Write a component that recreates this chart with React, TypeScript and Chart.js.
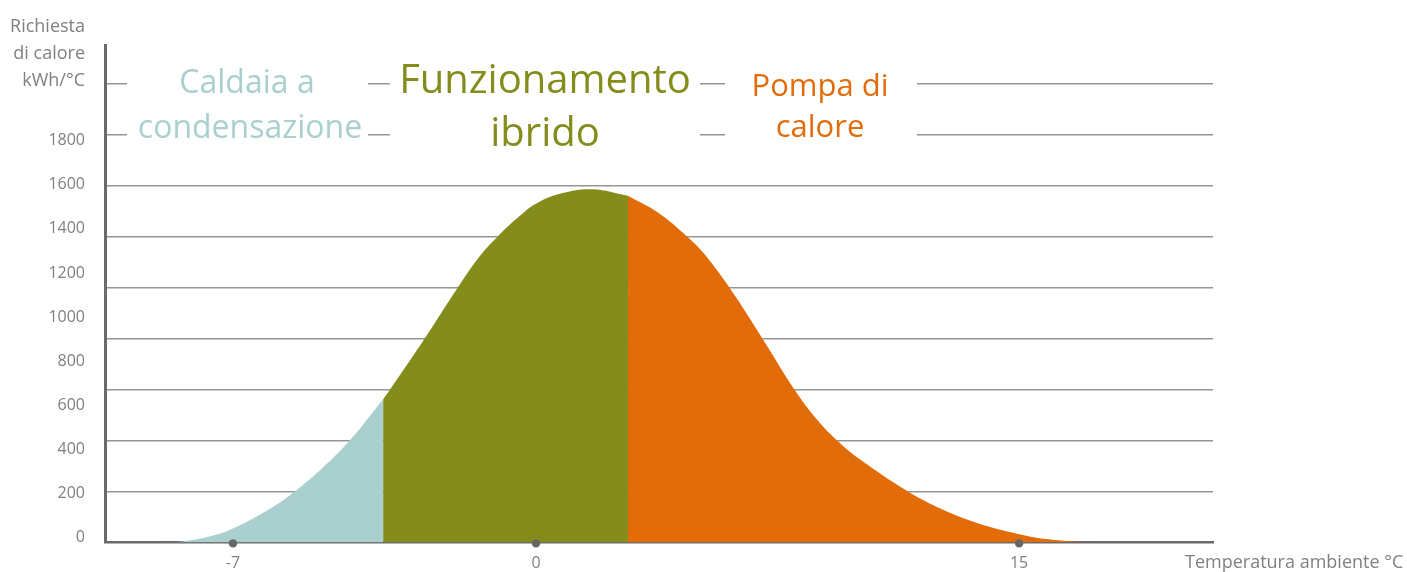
import React, { useEffect, useRef } from 'react';
import { Chart, registerables } from 'chart.js';

Chart.register(...registerables);

// Abstract horizontal position (0..100 across the plot) of each curve sample
const positions = [5.0, 6.8, 9.2, 11.55, 15.2, 17.0, 19.7, 22.1, 25.1, 25.7, 28.9, 31.8, 33.8, 35.4, 37.5, 39.0, 41.3, 44.0, 47.2, 49.8, 52.6, 54.0, 56.4, 59.4, 62.3, 64.35, 66.3, 68.1, 72.4, 75.6, 78.7, 82.6, 85.0, 87.7, 89.8];
// Heat demand (kWh/°C) at each position
const demand = [0, 3, 24, 63, 162, 226, 341, 463, 650, 692, 929, 1153, 1297, 1386, 1484, 1540, 1585, 1602, 1573, 1500, 1385, 1314, 1153, 920, 688, 552, 452, 378, 233, 149, 88, 36, 15, 3, 0];

// Zone boundaries (positions)
const boilerEnd = 25.1;
const hybridEnd = 47.2;

// X tick positions and their temperature labels
const xTickPositions = [11.55, 38.9, 82.5];
const xTickLabels = ['-7', '0', '15'];

// Y tick labels
const yTickValues = [0, 200, 400, 600, 800, 1000, 1200, 1400, 1600, 1800];
const yMax = 2257;

// Decorative grid levels (independent of the labels)
const gridLevels = [1, 2, 3, 4, 5, 6, 7, 8, 9];
const gridMax = 9.763;

const zoneNames = [
  ['Caldaia a', 'condensazione'],
  ['Funzionamento', 'ibrido'],
  ['Pompa di', 'calore'],
];
const zoneColors = ['#a9d0cf', '#848c1c', '#e36c0a'];
const yTitle = ['Richiesta', 'di calore', 'kWh/°C'];
const xTitle = 'Temperatura ambiente °C';

const FONT = "'Open Sans', 'DejaVu Sans', sans-serif";
const GREY = '#808080';

const pts = positions.map((x, i) => ({ x, y: demand[i] }));
const tealData = pts.filter((p) => p.x <= boilerEnd);
const greenData = pts.filter((p) => p.x >= boilerEnd && p.x <= hybridEnd);
const orangeData = pts.filter((p) => p.x >= hybridEnd);

const overlayPlugin = {
  id: 'overlay',
  afterDraw(chart: any) {
    const ctx = chart.ctx as CanvasRenderingContext2D;
    const xs = chart.scales.x;
    const ys = chart.scales.y;
    ctx.save();
    // white gaps in the top grid lines behind the zone titles
    ctx.fillStyle = '#ffffff';
    const gaps = [
      [127, 368],
      [390, 700],
      [725, 917],
    ];
    gaps.forEach(([a, b]) => ctx.fillRect(a, 60, b - a, 95));

    // zone titles
    ctx.textAlign = 'center';
    ctx.textBaseline = 'alphabetic';
    const zoneLayout = [
      { cx: [247, 250], base: [93, 138], size: 32 },
      { cx: [545, 545], base: [93, 146], size: 40 },
      { cx: [820, 820], base: [96, 137], size: 31 },
    ];
    zoneNames.forEach((lines, i) => {
      const l = zoneLayout[i];
      ctx.fillStyle = zoneColors[i];
      ctx.font = `${l.size}px ${FONT}`;
      lines.forEach((t, j) => ctx.fillText(t, l.cx[j], l.base[j]));
    });

    // y title
    ctx.fillStyle = GREY;
    ctx.font = `18px ${FONT}`;
    ctx.textAlign = 'right';
    const yb = [32, 59, 86];
    yTitle.forEach((t, i) => ctx.fillText(t, ys.right - 20, yb[i]));

    // x title
    ctx.textAlign = 'left';
    ctx.fillText(xTitle, 1185, 568);

    // tick dots on the x axis
    ctx.fillStyle = '#666666';
    xTickPositions.forEach((v) => {
      ctx.beginPath();
      ctx.arc(xs.getPixelForValue(v), xs.top + 1, 4.2, 0, Math.PI * 2);
      ctx.fill();
    });
    ctx.restore();
  },
};

export default function App() {
  const ref = useRef<HTMLCanvasElement | null>(null);
  useEffect(() => {
    if (!ref.current) return;
    const area = (data: any[], color: string) => ({
      type: 'line' as const,
      data,
      fill: 'origin',
      backgroundColor: color,
      borderWidth: 0,
      pointRadius: 0,
      tension: 0.4,
      xAxisID: 'x',
      yAxisID: 'y',
    });
    const chart = new Chart(ref.current, {
      type: 'line',
      data: {
        datasets: [
          area(tealData, zoneColors[0]),
          area(greenData, zoneColors[1]),
          area(orangeData, zoneColors[2]),
        ] as any,
      },
      options: {
        animation: false,
        responsive: true,
        maintainAspectRatio: false,
        layout: { padding: { left: 0, top: 45, right: 194, bottom: 0 } },
        plugins: { legend: { display: false }, tooltip: { enabled: false } },
        scales: {
          x: {
            type: 'linear',
            min: 0,
            max: 100,
            z: 1,
            grid: { display: false, drawTicks: false },
            border: { display: true, color: '#6b6b6b', width: 2.5 },
            afterBuildTicks: (s: any) => {
              s.ticks = xTickPositions.map((v) => ({ value: v }));
            },
            afterFit: (s: any) => {
              s.height = 28;
            },
            ticks: {
              autoSkip: false,
              maxRotation: 0,
              padding: 11,
              color: GREY,
              font: { family: FONT, size: 16 },
              callback: (v: any) => xTickLabels[xTickPositions.indexOf(Number(v))] ?? '',
            },
          },
          y: {
            type: 'linear',
            position: 'left',
            min: 0,
            max: yMax,
            z: 1,
            grid: { display: false, drawTicks: false },
            border: { display: true, color: '#6b6b6b', width: 3 },
            afterBuildTicks: (s: any) => {
              s.ticks = yTickValues.map((v) => ({ value: v }));
            },
            afterFit: (s: any) => {
              s.width = 105;
            },
            ticks: {
              padding: 20,
              labelOffset: -5,
              color: GREY,
              font: { family: FONT, size: 16 },
              callback: (v: any) => String(v),
            },
          },
          y2: {
            type: 'linear',
            position: 'left',
            min: 0,
            max: gridMax,
            z: 1,
            grid: { color: 'rgba(0,0,0,0.42)', lineWidth: 1.5, drawTicks: false },
            border: { display: false },
            afterBuildTicks: (s: any) => {
              s.ticks = gridLevels.map((v) => ({ value: v }));
            },
            afterFit: (s: any) => {
              s.width = 0;
            },
            ticks: { display: false },
          },
        },
      },
      plugins: [overlayPlugin],
    });
    return () => chart.destroy();
  }, []);
  return (
    <div style={{ position: 'fixed', left: 0, top: 0, width: 1407, height: 572, background: '#fff' }}>
      <canvas ref={ref} />
    </div>
  );
}
